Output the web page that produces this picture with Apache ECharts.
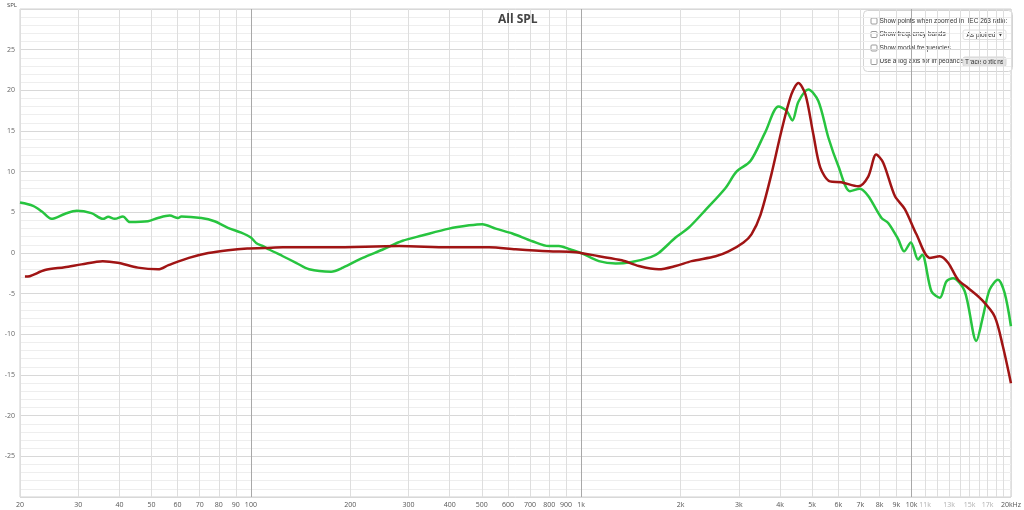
<!DOCTYPE html>
<html>
<head>
<meta charset="utf-8">
<title>All SPL</title>
<script src="https://cdn.jsdelivr.net/npm/echarts@6/dist/echarts.min.js"></script>
<style>
  html, body { margin: 0; padding: 0; background: #fff; }
  #chart { width: 1024px; height: 510px; }
</style>
</head>
<body>
<div id="chart"></div>
<script>
// green trace (frequency in Hz, level in dB)
const freqGreen = [20, 21.9, 23.3, 24.9, 27.3, 29.7, 32.9, 35.7, 37, 38.7,
  41, 43, 48.8, 52.3, 56.8, 60.2, 61.6, 70.8, 77.6, 85.2,
  93.5, 100, 104, 108, 114, 125, 137, 150, 175, 190,
  218, 250, 288, 330, 398, 458, 502, 551, 619, 711,
  798, 856, 917, 1000, 1131, 1272, 1422, 1624, 1716, 1931,
  2114, 2380, 2735, 2952, 3254, 3612, 3956, 4180, 4360, 4546,
  4872, 5223, 5600, 6004, 6513, 6982, 7396, 8114, 8500, 9112,
  9500, 9954, 10472, 10768, 11488, 12180, 12752, 13360, 14492, 15712,
  16460, 17240, 18266, 19136, 20000];
const splGreen = [6.2, 5.8, 5.1, 4.2, 4.8, 5.2, 4.9, 4.2, 4.45, 4.2,
  4.5, 3.8, 3.9, 4.3, 4.6, 4.3, 4.5, 4.3, 3.9, 3.1,
  2.5, 1.9, 1.2, 0.9, 0.4, -0.4, -1.2, -2.0, -2.3, -1.8,
  -0.6, 0.4, 1.5, 2.15, 3.0, 3.4, 3.55, 3.0, 2.4, 1.45,
  0.85, 0.85, 0.5, 0.0, -1.0, -1.3, -1.1, -0.5, 0.0, 1.9,
  3.1, 5.3, 8.0, 10.0, 11.3, 14.9, 18.0, 17.5, 16.3, 18.6,
  20.1, 18.7, 14.2, 10.7, 7.6, 7.9, 7.0, 4.3, 3.7, 1.7,
  0.2, 1.3, -0.8, -0.2, -4.7, -5.5, -3.5, -3.1, -4.7, -10.8,
  -7.8, -4.5, -3.3, -4.9, -9.0];

// red trace
const freqRed = [20.7, 21.4, 23.8, 27.3, 30.7, 35.6, 39.5, 45.5, 52.4, 56.3,
  64.9, 74.3, 85.3, 97.5, 110, 125, 175, 281, 398, 526,
  633, 798, 961, 1131, 1327, 1493, 1716, 1931, 2159, 2553,
  2793, 3100, 3277, 3490, 3767, 4038, 4328, 4546, 4773, 5044,
  5296, 5668, 6130, 6900, 7396, 7818, 8210, 8906, 9546, 10350,
  11360, 12180, 12904, 13834, 14830, 16268, 17852, 18912, 20000];
const splRed = [-2.9, -2.85, -2.1, -1.75, -1.4, -1.0, -1.2, -1.8, -2.0, -1.5,
  -0.6, 0.0, 0.35, 0.55, 0.6, 0.7, 0.7, 0.85, 0.7, 0.7,
  0.45, 0.2, 0.1, -0.4, -0.9, -1.6, -2.0, -1.6, -1.0, -0.4,
  0.2, 1.3, 2.3, 4.7, 9.7, 15.0, 19.5, 20.9, 19.5, 14.6,
  10.5, 8.8, 8.7, 8.2, 9.4, 12.1, 11.1, 7.0, 5.4, 2.3,
  -0.6, -0.4, -1.2, -3.3, -4.3, -5.7, -7.8, -11.5, -16.0];

// frequency grid lines and labels
const gridFreqs = [20, 30, 40, 50, 60, 70, 80, 90,
  100, 200, 300, 400, 500, 600, 700, 800, 900,
  1000, 2000, 3000, 4000, 5000, 6000, 7000, 8000, 9000,
  10000, 11000, 12000, 13000, 14000, 15000, 16000, 17000, 18000, 19000, 20000];
const labelFreqs = [20, 30, 40, 50, 60, 70, 80, 90,
  100, 200, 300, 400, 500, 600, 700, 800, 900,
  1000, 2000, 3000, 4000, 5000, 6000, 7000, 8000, 9000,
  10000, 11000, 13000, 15000, 17000, 20000];
const faintLabels = [11000, 13000, 15000, 17000];
const decadeFreqs = [100, 1000, 10000];

const FONT = 'Open Sans';
const PANEL_FONT = '6.5px "Liberation Sans"';

function freqLabel(v) {
  const f = Math.round(v);
  let s;
  if (f === 20000) s = '20kHz';
  else if (f >= 1000) s = (f / 1000) + 'k';
  else s = String(f);
  return faintLabels.indexOf(f) >= 0 ? '{faint|' + s + '}' : s;
}

// one row of the options panel: checkbox + caption
function panelRow(y, caption) {
  return [
    { type: 'rect', shape: { x: 7.5, y: y - 3, width: 6, height: 6, r: 1 },
      style: { fill: '#fff', stroke: '#9a9a9a', lineWidth: 1 } },
    { type: 'text', x: 16, y: y, style: { text: caption, font: PANEL_FONT, fill: '#333', verticalAlign: 'middle' } }
  ];
}

const chart = echarts.init(document.getElementById('chart'));

const option = {
  backgroundColor: '#fff',
  animation: false,
  title: {
    text: 'All SPL',
    left: 493,
    top: 9,
    textStyle: { fontFamily: FONT, fontSize: 12, fontWeight: 'bold', color: '#444' }
  },
  grid: {
    left: 20, right: 11, top: 9, bottom: 13,
    show: true, borderColor: '#d0d0d0', borderWidth: 1, backgroundColor: '#fff'
  },
  xAxis: [
    {
      type: 'log',
      logBase: 10,
      min: 20,
      max: 20000,
      axisLine: { show: false },
      axisTick: { show: false, customValues: gridFreqs },
      splitLine: { show: true, lineStyle: { color: '#dedede', width: 1 } },
      axisLabel: {
        customValues: labelFreqs,
        formatter: freqLabel,
        fontFamily: FONT,
        fontSize: 7,
        color: '#555',
        margin: 4,
        rich: { faint: { fontFamily: FONT, fontSize: 7, color: '#b0b0b0' } }
      }
    },
    {
      type: 'log',
      logBase: 10,
      min: 20,
      max: 20000,
      position: 'top',
      axisLine: { show: false },
      axisTick: { show: false, customValues: decadeFreqs },
      axisLabel: { show: false },
      splitLine: { show: true, lineStyle: { color: '#a8a8a8', width: 1 } }
    }
  ],
  yAxis: {
    type: 'value',
    min: -30,
    max: 30,
    interval: 5,
    name: 'SPL',
    nameLocation: 'end',
    nameGap: 1,
    nameTextStyle: { fontFamily: FONT, fontSize: 6, color: '#444', align: 'right', padding: [0, 3, 0, 0] },
    axisLine: { show: false },
    axisTick: { show: false },
    minorTick: { show: false, splitNumber: 5 },
    splitLine: { show: true, lineStyle: { color: '#d8d8d8' } },
    minorSplitLine: { show: true, lineStyle: { color: '#eeeeee' } },
    axisLabel: {
      fontFamily: FONT,
      fontSize: 7,
      color: '#666',
      margin: 5,
      formatter: function (v) { return Math.abs(v) >= 30 ? '' : String(v); }
    }
  },
  series: [
    {
      name: 'Green',
      type: 'line',
      xAxisIndex: 0,
      showSymbol: false,
      smooth: 0.3,
      lineStyle: { color: '#27c43f', width: 2.5 },
      data: freqGreen.map((f, i) => [f, splGreen[i]])
    },
    {
      name: 'Red',
      type: 'line',
      xAxisIndex: 0,
      showSymbol: false,
      smooth: 0.3,
      lineStyle: { color: '#a01414', width: 2.5 },
      data: freqRed.map((f, i) => [f, splRed[i]])
    }
  ],
  graphic: [
    {
      type: 'group',
      left: 863,
      top: 10,
      children: [
        { type: 'rect', shape: { x: 0, y: 0, width: 149, height: 61, r: 4 },
          style: { fill: '#fff', stroke: '#d4d4d4', lineWidth: 1 } }
      ].concat(
        panelRow(10.5, 'Show points when zoomed in'),
        panelRow(24, 'Show frequency bands'),
        panelRow(37.5, 'Show modal frequencies'),
        panelRow(51, 'Use a log axis for impedance'),
        [
          { type: 'text', x: 104, y: 10.5, style: { text: 'IEC 263 ratio:', font: PANEL_FONT, fill: '#333', verticalAlign: 'middle' } },
          { type: 'rect', shape: { x: 99.5, y: 19.5, width: 43, height: 9.5, r: 2 }, style: { fill: '#fff', stroke: '#e0e0e0' } },
          { type: 'text', x: 103, y: 24.3, style: { text: 'As plotted', font: PANEL_FONT, fill: '#333', verticalAlign: 'middle' } },
          { type: 'text', x: 135, y: 24.3, style: { text: '▼', font: '5px "DejaVu Sans"', fill: '#333', verticalAlign: 'middle' } },
          { type: 'rect', shape: { x: 99.5, y: 46.5, width: 43, height: 9.5, r: 2 }, style: { fill: '#e3e3e3', stroke: '#d6d6d6' } },
          { type: 'text', x: 121, y: 51.3, style: { text: 'Trace options', font: PANEL_FONT, fill: '#333', align: 'center', verticalAlign: 'middle' } }
        ]
      )
    }
  ]
};

chart.setOption(option);
</script>
</body>
</html>
